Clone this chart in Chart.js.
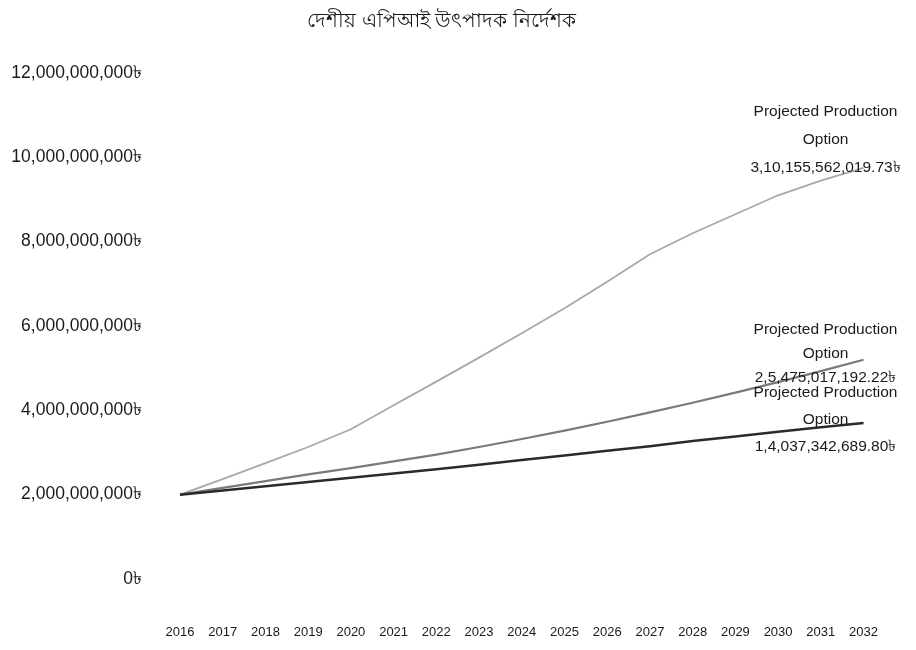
<!DOCTYPE html>
<html>
<head>
<meta charset="utf-8">
<script src="https://cdn.jsdelivr.net/npm/chart.js@4"></script>
<style>
  html, body { margin: 0; padding: 0; background: #ffffff; }
  #wrap { width: 916px; height: 650px; position: relative; }
</style>
</head>
<body>
<div id="wrap"><canvas id="c"></canvas></div>
<script>
const chartTitle = "দেশীয় এপিআই উৎপাদক নির্দেশক";
const years = ["2016","2017","2018","2019","2020","2021","2022","2023","2024","2025","2026","2027","2028","2029","2030","2031","2032"];
const option1 = [2.00e9, 2.10e9, 2.20e9, 2.30e9, 2.40e9, 2.50e9, 2.60e9, 2.71e9, 2.82e9, 2.93e9, 3.04e9, 3.15e9, 3.27e9, 3.38e9, 3.49e9, 3.60e9, 3.70e9];
const option2 = [2.00e9, 2.16e9, 2.32e9, 2.48e9, 2.63e9, 2.79e9, 2.95e9, 3.13e9, 3.32e9, 3.52e9, 3.73e9, 3.95e9, 4.18e9, 4.42e9, 4.67e9, 4.93e9, 5.20e9];
const option3 = [2.00e9, 2.37e9, 2.75e9, 3.13e9, 3.55e9, 4.12e9, 4.68e9, 5.25e9, 5.83e9, 6.42e9, 7.05e9, 7.70e9, 8.20e9, 8.65e9, 9.10e9, 9.45e9, 9.75e9];
const seriesLabel = ["Projected Production", "Option"];
const endValueText = ["1,4,037,342,689.80৳", "2,5,475,017,192.22৳", "3,10,155,562,019.73৳"];
const yTicks = [0, 2e9, 4e9, 6e9, 8e9, 10e9, 12e9];

const FONT = "'Liberation Sans', Arial, sans-serif";

const endLabelPlugin = {
  id: 'endLabels',
  afterDatasetsDraw(chart) {
    const ctx = chart.ctx;
    ctx.save();
    ctx.fillStyle = '#1a1a1a';
    ctx.font = '15.5px ' + FONT;
    ctx.textAlign = 'center';
    ctx.textBaseline = 'middle';
    chart.data.datasets.forEach((ds, i) => {
      const meta = chart.getDatasetMeta(i);
      const pt = meta.data[meta.data.length - 1];
      const cx = pt.x - 38;
      const cy = pt.y + ds.labelDy;
      const lines = [seriesLabel[0], seriesLabel[1], endValueText[i]];
      lines.forEach((t, k) => ctx.fillText(t, cx, cy + (k - 1) * ds.labelGap));
    });
    ctx.restore();
  }
};

new Chart(document.getElementById('c'), {
  type: 'line',
  data: {
    labels: years,
    datasets: [
      { label: 'Projected Production Option 1', data: option1, borderColor: '#2a2a2a', borderWidth: 2.5, pointRadius: 0, tension: 0, labelDy: -3, labelGap: 27 },
      { label: 'Projected Production Option 2', data: option2, borderColor: '#7a7a7a', borderWidth: 2.2, pointRadius: 0, tension: 0, labelDy: -6, labelGap: 24 },
      { label: 'Projected Production Option 3', data: option3, borderColor: '#a8a8a8', borderWidth: 1.8, pointRadius: 0, tension: 0, labelDy: -28, labelGap: 28 }
    ]
  },
  options: {
    responsive: true,
    maintainAspectRatio: false,
    animation: false,
    layout: { padding: { left: 0, right: 33, top: 0, bottom: 0 } },
    plugins: {
      legend: { display: false },
      tooltip: { enabled: false },
      title: {
        display: true,
        text: chartTitle,
        color: '#1a1a1a',
        font: { family: FONT, size: 20, weight: 'normal' },
        padding: { top: 9, bottom: 40 }
      }
    },
    scales: {
      x: {
        offset: false,
        grid: { display: false },
        border: { display: false },
        ticks: { color: '#1a1a1a', font: { family: FONT, size: 13 }, padding: 38, maxRotation: 0, autoSkip: false },
        afterFit(scale) { scale.height = 71; }
      },
      y: {
        min: 0,
        max: 12e9,
        grid: { display: false },
        border: { display: false },
        afterBuildTicks(scale) { scale.ticks = yTicks.map(v => ({ value: v })); },
        ticks: {
          color: '#1a1a1a',
          font: { family: FONT, size: 17.5 },
          padding: 30,
          callback: (v) => Number(v).toLocaleString('en-US') + '৳'
        },
        afterFit(scale) { scale.width = 180; }
      }
    }
  },
  plugins: [endLabelPlugin]
});
</script>
</body>
</html>
